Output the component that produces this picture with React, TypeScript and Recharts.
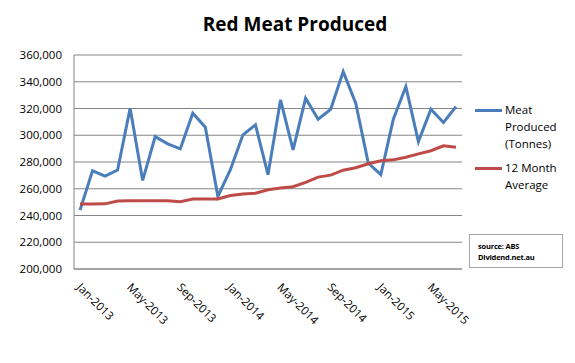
import { LineChart, Line, XAxis, YAxis, CartesianGrid } from 'recharts';

const months = [
  'Jan-2013', 'Feb-2013', 'Mar-2013', 'Apr-2013', 'May-2013', 'Jun-2013',
  'Jul-2013', 'Aug-2013', 'Sep-2013', 'Oct-2013', 'Nov-2013', 'Dec-2013',
  'Jan-2014', 'Feb-2014', 'Mar-2014', 'Apr-2014', 'May-2014', 'Jun-2014',
  'Jul-2014', 'Aug-2014', 'Sep-2014', 'Oct-2014', 'Nov-2014', 'Dec-2014',
  'Jan-2015', 'Feb-2015', 'Mar-2015', 'Apr-2015', 'May-2015', 'Jun-2015',
  'Jul-2015',
];

const meatProduced = [
  244000, 273400, 269500, 274000, 320200, 266200, 299000, 293600, 289800,
  316500, 306000, 254300, 274200, 300300, 307800, 270500, 326400, 289100,
  327700, 312000, 319400, 347600, 323900, 279200, 270500, 312000, 336400,
  295300, 319400, 309500, 321400,
];

const movingAverage = [
  248600, 248600, 248700, 250800, 251000, 251000, 251000, 251000, 250300,
  252300, 252400, 252400, 255000, 256000, 256700, 259200, 260500, 261500,
  264700, 268700, 270200, 273900, 275700, 278700, 280900, 281600, 283600,
  286100, 288400, 292100, 291100,
];

const yTicks = [200000, 220000, 240000, 260000, 280000, 300000, 320000, 340000, 360000];

const data = months.map((m, i) => ({
  month: m,
  meat: meatProduced[i],
  avg: movingAverage[i],
}));

const FONT = '"Open Sans", sans-serif';

function MonthTick({ x, y, payload }: any) {
  const tx = x - 4;
  const ty = y + 19;
  return (
    <text
      x={tx}
      y={ty}
      transform={`rotate(45, ${tx}, ${ty})`}
      textAnchor="start"
      fontFamily={FONT}
      fontSize={11.5}
      fill="#000"
    >
      {payload.value}
    </text>
  );
}

export default function App() {
  return (
    <div
      style={{
        position: 'absolute',
        left: 0,
        top: 0,
        width: 575,
        height: 363,
        background: '#fff',
        fontFamily: FONT,
      }}
    >
      <div
        style={{
          position: 'absolute',
          top: 9,
          left: 0,
          width: 590,
          textAlign: 'center',
          fontWeight: 700,
          fontSize: 19,
          lineHeight: '30px',
        }}
      >
        Red Meat Produced
      </div>
      <LineChart
        width={575}
        height={363}
        data={data}
        margin={{ top: 55, right: 113, bottom: 0, left: 0 }}
      >
        <CartesianGrid vertical={false} stroke="#868686" strokeWidth={1} />
        <XAxis
          dataKey="month"
          interval={3}
          height={94}
          padding={{ left: 6, right: 6 }}
          tickLine={false}
          tickSize={0}
          tickMargin={0}
          axisLine={{ stroke: '#868686' }}
          tick={<MonthTick />}
        />
        <YAxis
          domain={[200000, 360000]}
          ticks={yTicks}
          width={74}
          tickLine={false}
          tickSize={0}
          tickMargin={12}
          axisLine={{ stroke: '#868686' }}
          tickFormatter={(v: number) => v.toLocaleString('en-US')}
          tick={{ fontFamily: FONT, fontSize: 11.5, fill: '#000' }}
        />
        <Line
          dataKey="meat"
          stroke="#4a7ebb"
          strokeWidth={3}
          dot={false}
          isAnimationActive={false}
        />
        <Line
          dataKey="avg"
          stroke="#be4b48"
          strokeWidth={3}
          dot={false}
          isAnimationActive={false}
        />
      </LineChart>

      <div style={{ position: 'absolute', left: 475, top: 101, fontSize: 11.5, lineHeight: '17px' }}>
        <div style={{ position: 'absolute', left: 0, top: 8, width: 27, height: 3, background: '#4a7ebb' }} />
        <div style={{ position: 'absolute', left: 30, top: 0, whiteSpace: 'nowrap' }}>
          Meat
          <br />
          Produced
          <br />
          (Tonnes)
        </div>
        <div style={{ position: 'absolute', left: 0, top: 66, width: 27, height: 3, background: '#be4b48' }} />
        <div style={{ position: 'absolute', left: 30, top: 58, whiteSpace: 'nowrap' }}>
          12 Month
          <br />
          Average
        </div>
      </div>

      <div
        style={{
          position: 'absolute',
          left: 469,
          top: 234,
          width: 94,
          height: 34,
          border: '1px solid #a6a6a6',
          boxSizing: 'border-box',
          fontSize: 7.5,
          fontWeight: 700,
          lineHeight: '11px',
          padding: '6px 0 0 8px',
          letterSpacing: -0.2,
        }}
      >
        source: ABS
        <br />
        Dividend.net.au
      </div>
    </div>
  );
}
